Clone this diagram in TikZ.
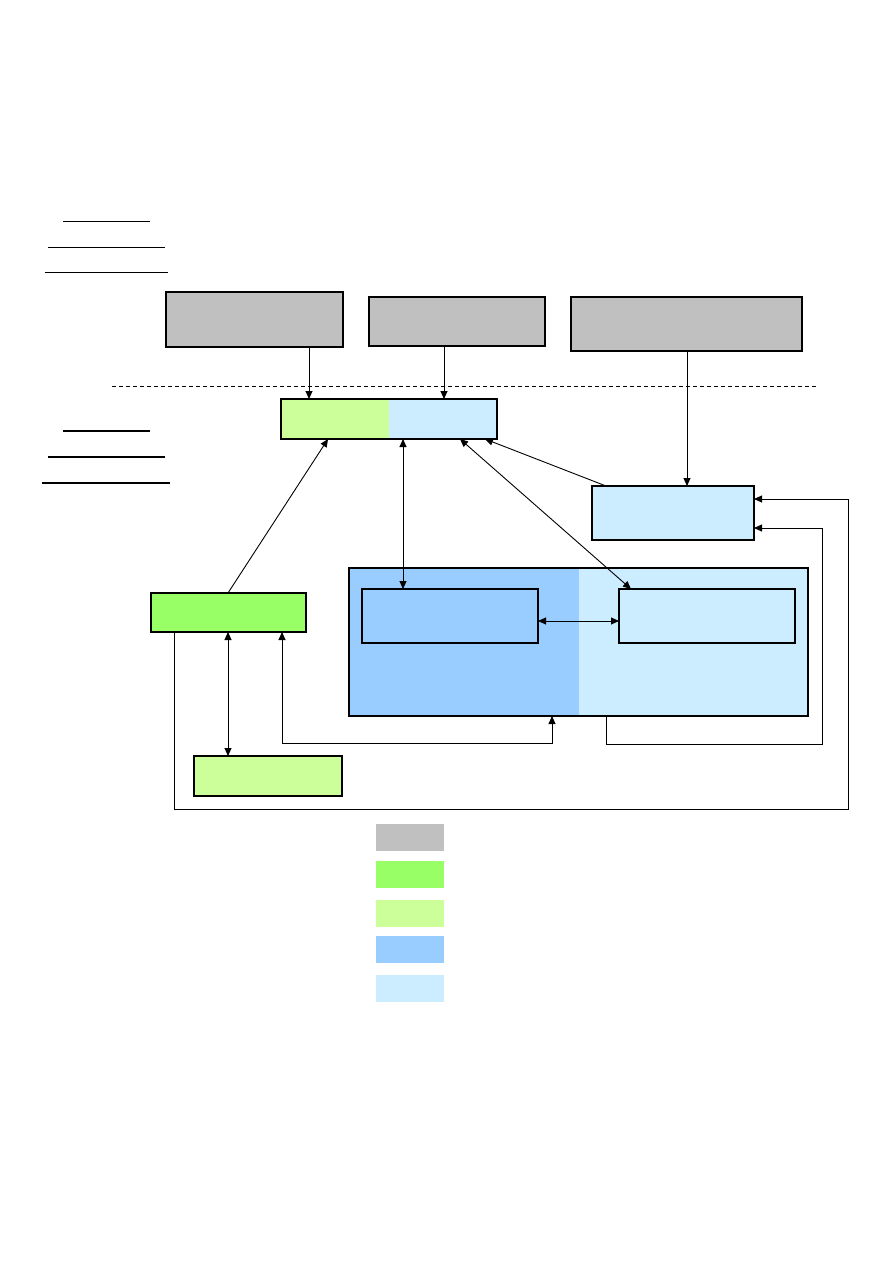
\documentclass[tikz,border=0pt]{standalone}
\usetikzlibrary{arrows.meta}
\definecolor{cgray}{HTML}{C0C0C0}
\definecolor{cgreen}{HTML}{99FF66}
\definecolor{clgreen}{HTML}{CCFF99}
\definecolor{cblue}{HTML}{99CCFF}
\definecolor{clblue}{HTML}{CCECFF}
\tikzset{
  box/.style={draw, line width=1.2pt, inner sep=0, outer sep=0, anchor=north west},
  thickbox/.style={box, line width=2pt},
  leg/.style={inner sep=0, outer sep=0, anchor=north west, minimum width=68pt, minimum height=27pt},
  arr/.style={line width=0.9pt, -{Triangle[length=8pt,width=7pt]}},
  darr/.style={line width=0.9pt, {Triangle[length=8pt,width=7pt]}-{Triangle[length=8pt,width=7pt]}},
  rule/.style={line width=0.9pt},
  thickrule/.style={line width=1.6pt},
  halfleft/.style={path picture={\fill[#1] (path picture bounding box.north west) rectangle ([xshift=0pt]path picture bounding box.south);}},
}
\begin{document}
\begin{tikzpicture}[x=1pt,y=-1pt]
\path[use as bounding box] (0,0) rectangle (893,1263);
% left header rules
\draw[rule] (63,221) -- (150,221);
\draw[rule] (48,247) -- (165,247);
\draw[rule] (45,272) -- (168,272);
\draw[thickrule] (63,431) -- (150,431);
\draw[thickrule] (48,457) -- (165,457);
\draw[thickrule] (42,483) -- (170,483);
% dashed separator
\draw[dashed, line width=0.8pt, dash pattern=on 4pt off 3pt] (112,386) -- (817,386);
% gray boxes
\node[thickbox, fill=cgray, minimum width=177pt, minimum height=55pt] (g1) at (166,292) {};
\node[box, line width=1.5pt, fill=cgray, minimum width=176pt, minimum height=49pt] (g2) at (369,297) {};
\node[box, line width=1.5pt, fill=cgray, minimum width=231pt, minimum height=54pt] (g3) at (571,297) {};
% split box
\node[box, line width=1.5pt, fill=clblue, halfleft=clgreen, minimum width=216pt, minimum height=40pt] (split) at (281,399) {};
% right box
\node[box, fill=clblue, minimum width=162pt, minimum height=54pt] (rb) at (592,486) {};
% container
\node[box, fill=clblue, halfleft=cblue, minimum width=459pt, minimum height=148pt] (cont) at (349,568) {};
\fill[cblue] (350,569) rectangle (579,715);
\node[box, fill=cblue, minimum width=176pt, minimum height=54pt] (ib1) at (362,589) {};
\node[box, fill=clblue, minimum width=176pt, minimum height=54pt] (ib2) at (619,589) {};
% green boxes
\node[box, fill=cgreen, minimum width=155pt, minimum height=39pt] (gb) at (151,593) {};
\node[box, fill=clgreen, minimum width=148pt, minimum height=40pt] (lg) at (194,756) {};
% corner coordinates
\coordinate (c1) at (552,743);
\coordinate (c2) at (606,744);
\coordinate (c3) at (822,528);
\coordinate (c4) at (174,809);
\coordinate (c5) at (848,499);
% connectors
\draw[arr] (309,0 |- g1.south) -- (309,0 |- split.north);
\draw[arr] (444,0 |- g2.south) -- (444,0 |- split.north);
\draw[arr] (687,0 |- g3.south) -- (687,0 |- rb.north);
\draw[arr] (606,0 |- rb.north) -- (485,0 |- split.south);
\draw[arr] (228,0 |- gb.north) -- (328,0 |- split.south);
\draw[darr] (403,0 |- split.south) -- (403,0 |- ib1.north);
\draw[darr] (460,0 |- split.south) -- (631,0 |- ib2.north);
\draw[darr] (ib1.east |- 0,621) -- (ib2.west |- 0,621);
\draw[darr] (228,0 |- gb.south) -- (228,0 |- lg.north);
\draw[darr] (282,0 |- gb.south) |- (c1) -- (552,0 |- cont.south);
\draw[arr] (606,0 |- cont.south) -- (c2) -| (c3) -- (rb.east |- c3);
\draw[arr] (174,0 |- gb.south) -- (c4) -| (c5) -- (rb.east |- c5);
% legend
\node[leg, fill=cgray] (l1) at (376,824) {};
\node[leg, fill=cgreen] (l2) at (376,861) {};
\node[leg, fill=clgreen] (l3) at (376,900) {};
\node[leg, fill=cblue] (l4) at (376,936) {};
\node[leg, fill=clblue] (l5) at (376,975) {};
\end{tikzpicture}
\end{document}
